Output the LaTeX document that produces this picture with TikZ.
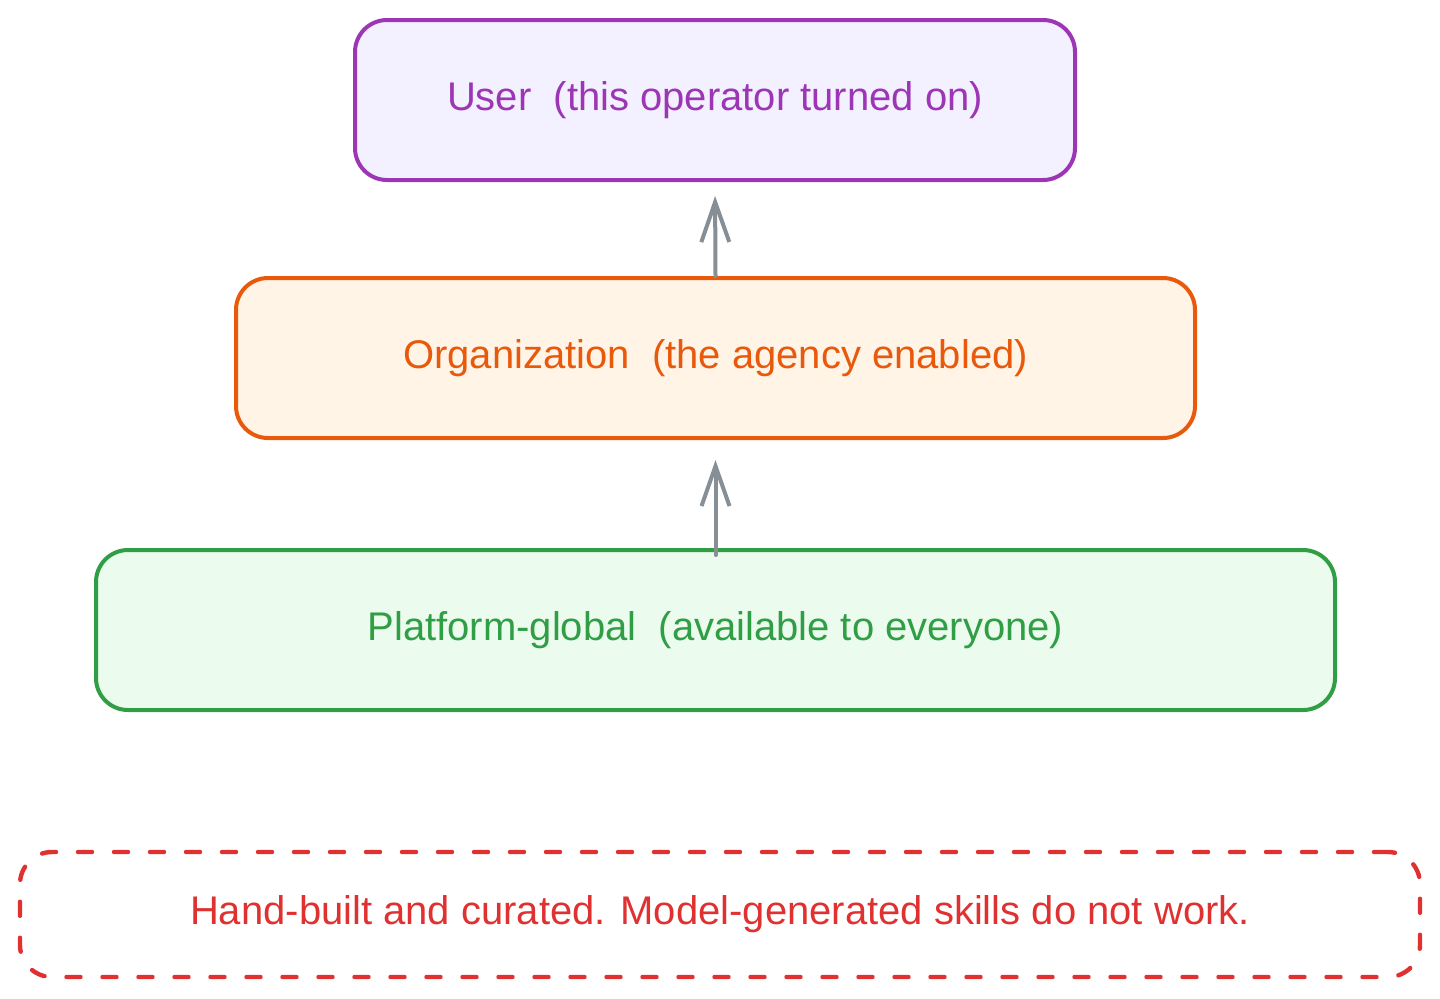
\documentclass[tikz,border=0pt]{standalone}
\usepackage{fontspec}
\setmainfont{Liberation Sans}
\usetikzlibrary{arrows.meta}
\definecolor{upurple}{HTML}{9C36B5}
\definecolor{ufill}{HTML}{F3F0FF}
\definecolor{oorange}{HTML}{E8590C}
\definecolor{ofill}{HTML}{FFF4E6}
\definecolor{pgreen}{HTML}{2F9E44}
\definecolor{pfill}{HTML}{EBFBEE}
\definecolor{nred}{HTML}{E03131}
\definecolor{agray}{HTML}{868E96}
\tikzset{
  layerbox/.style={draw, line width=2pt, rounded corners=16pt, minimum height=80pt, inner sep=0pt,
    font=\fontsize{20}{24}\selectfont},
  notebox/.style={draw=nred, text=nred, line width=2.2pt, dash pattern=on 7pt off 11pt, line cap=round,
    rounded corners=16pt, minimum width=700pt, minimum height=62.5pt, inner sep=0pt,
    font=\fontsize{20}{24}\selectfont},
  uparrow/.style={draw=agray, line width=2pt, line cap=round,
    -{Straight Barb[length=20pt,width=14pt,line width=2pt]}}
}
\begin{document}
\begin{tikzpicture}[x=0.5pt,y=-0.5pt]
\useasboundingbox (0,0) rectangle (1440,998);
\node[layerbox, draw=upurple, fill=ufill, text=upurple, minimum width=360pt] (user) at (715,100) {User\ \ (this operator turned on)};
\node[layerbox, draw=oorange, fill=ofill, text=oorange, minimum width=479.5pt] (org) at (715.5,358) {Organization\ \ (the agency enabled)};
\node[layerbox, draw=pgreen, fill=pfill, text=pgreen, minimum width=619.5pt] (plat) at (715.5,630) {Platform-global\ \ (available to everyone)};
\node[notebox] (note) at (720,914.5) {Hand-built and curated. Model-generated skills do not work.};
\draw[uparrow, shorten >=7pt] (org.north) -- (user.south);
\draw[uparrow, shorten <=-3.5pt, shorten >=10pt] (plat.north) -- (org.south);
\end{tikzpicture}
\end{document}
